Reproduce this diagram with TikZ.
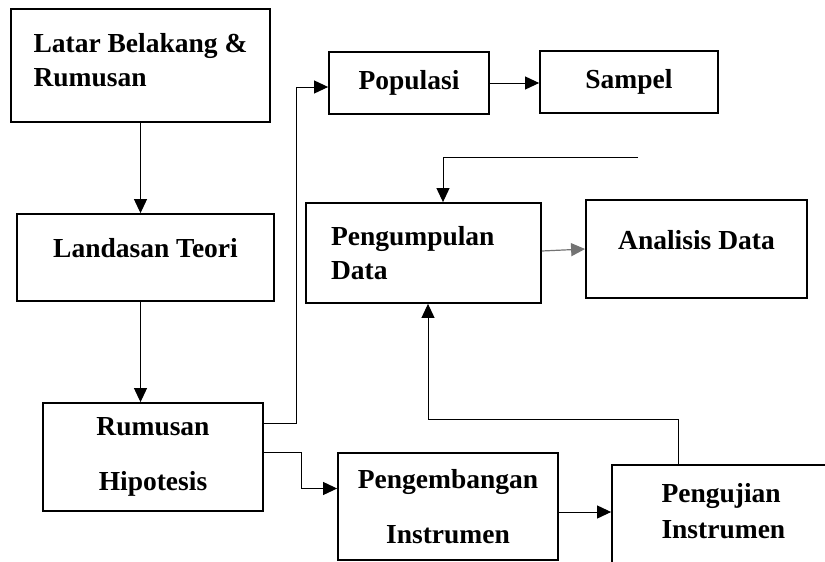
\documentclass[tikz,border=0pt]{standalone}
\usepackage{fontspec}
\setmainfont{Liberation Serif}
\usetikzlibrary{positioning,arrows.meta,calc}

\begin{document}
\begin{tikzpicture}[
    x=1pt, y=-1pt,
    >={Triangle[length=14pt,width=13pt]},
    font=\bfseries\fontsize{27.5}{34}\selectfont,
    box/.style={draw, line width=1.8pt, rectangle, inner sep=0pt, align=center},
    arr/.style={->, line width=1pt},
    garr/.style={->, line width=1.2pt, draw=black!55},
  ]
\useasboundingbox (0,0) rectangle (825,562);
\clip (0,0) rectangle (825,562);

% ===== Left column =====
\node[box, minimum width=259pt, minimum height=113pt, align=left] (latar) at (140.5,65.5)
  {\raisebox{11pt}{\shortstack[l]{Latar Belakang \&\\[7pt]Rumusan}}};
\node[box, minimum width=257pt, minimum height=87pt] (landasan) at (145.5,257.5)
  {\raisebox{19pt}{Landasan Teori}};
\node[box, minimum width=220pt, minimum height=108pt] (rumusan) at (153,457)
  {Rumusan\\[21pt]Hipotesis};

% ===== Upper row =====
\node[box, minimum width=160pt, minimum height=62pt] (populasi) at (409,83) {Populasi};
\node[box, minimum width=178pt, minimum height=62pt] (sampel) at (629,82) {\raisebox{4pt}{Sampel}};

% ===== Middle row =====
\node[box, minimum width=235pt, minimum height=100pt, text width=185pt, align=left] (kumpul) at (423.5,253)
  {Pengumpulan\\Data};
\node[box, minimum width=221pt, minimum height=98pt] (analisis) at (696.5,249)
  {\raisebox{18pt}{Analisis Data}};

% ===== Lower row =====
\node[box, minimum width=220pt, minimum height=107pt] (kembang) at (448,506.5)
  {Pengembangan\\[21pt]Instrumen};
\node[box, minimum width=220pt, minimum height=110pt, text width=121pt, align=left] (uji) at (722,520)
  {\raisebox{19pt}{\shortstack[l]{Pengujian\\[9pt]Instrumen}}};

\coordinate (balik) at (638,157);

% Arrows
\draw[arr] (latar.south) -- (latar.south |- landasan.north);
\draw[arr] (latar.south |- landasan.south) -- (latar.south |- rumusan.north);
\draw[arr] ([yshift=34pt]rumusan.east) -- ++(33,0) |- ([yshift=-4pt]populasi.west);
\draw[arr] ([yshift=5pt]rumusan.east) -- ++(38,0) |- ([yshift=18pt]kembang.west);
\draw[arr] (populasi.east) -- (populasi.east -| sampel.west);
\draw[arr] (balik) -| ([xshift=19.5pt]kumpul.north);
\draw[garr] ([yshift=2pt]kumpul.east) -- (analisis.west);
\draw[arr] ([yshift=-5.5pt]kembang.east) -- ([yshift=-5.5pt]kembang.east -| uji.west);
\draw[arr] ([xshift=-44pt]uji.north) -- ++(0,-45) -| ([xshift=4.5pt]kumpul.south);

\end{tikzpicture}
\end{document}
